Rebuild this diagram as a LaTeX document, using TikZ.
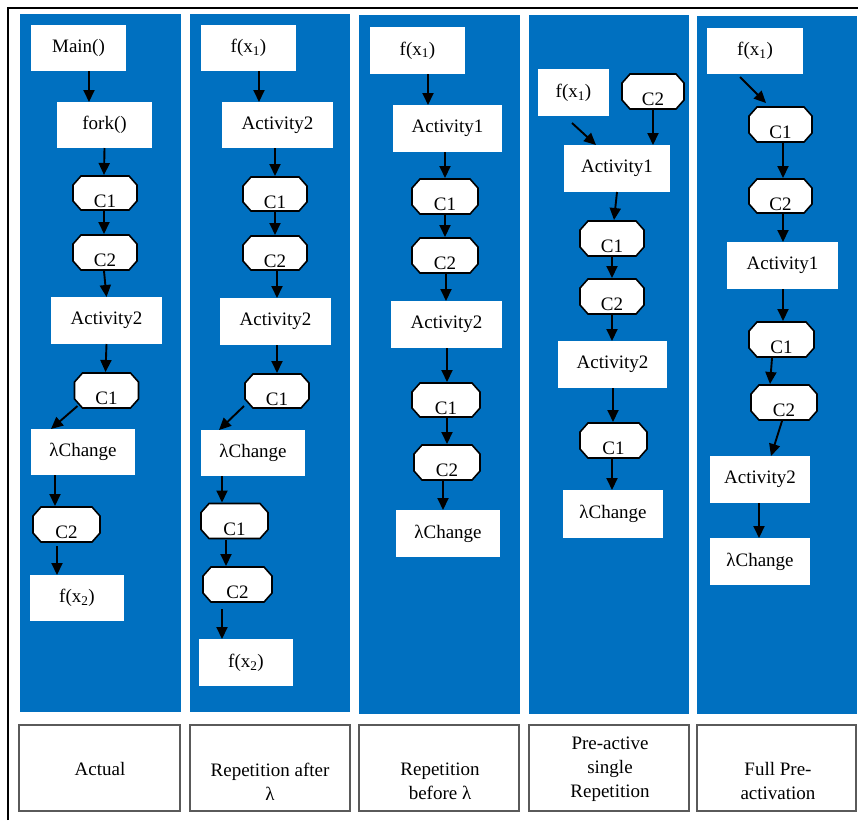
\documentclass[tikz,border=0pt]{standalone}
\usepackage{fontspec}
\setmainfont{Liberation Serif}
\usetikzlibrary{arrows.meta,calc}
\definecolor{panelblue}{RGB}{0,112,192}
\definecolor{boxgray}{RGB}{90,90,90}

% arrow from the bottom of one node to the top of the next, with x/y nudges
\newcommand\flowarrow[6]{\draw[arr] ([xshift=#2pt,yshift=#3pt]#1.south) -- ([xshift=#5pt,yshift=#6pt]#4.north);}

\tikzset{
  every node/.style={font=\fontsize{19}{24}\selectfont},
  wh/.style 2 args={minimum width=#1pt, minimum height=#2pt},
  blk/.style={rectangle, fill=white, inner sep=0pt, outer sep=0pt},
  oct/.style 2 args={rectangle, fill=panelblue, inner sep=0pt, outer sep=0pt,
    minimum width=#1pt+2pt, minimum height=#2pt+2pt,
    text height=28pt, text depth=0pt,
    path picture={
      \draw[line width=1.6pt, fill=white]
        ($(path picture bounding box.north west)+(9pt,-1pt)$) --
        ($(path picture bounding box.north east)+(-9pt,-1pt)$) --
        ($(path picture bounding box.north east)+(-1pt,-10pt)$) --
        ($(path picture bounding box.south east)+(-1pt,10pt)$) --
        ($(path picture bounding box.south east)+(-9pt,1pt)$) --
        ($(path picture bounding box.south west)+(9pt,1pt)$) --
        ($(path picture bounding box.south west)+(1pt,10pt)$) --
        ($(path picture bounding box.north west)+(1pt,-10pt)$) -- cycle;
    }},
  arr/.style={line width=1.9pt, -{Triangle[length=12pt,width=11pt]}},
  lblbox/.style={rectangle, draw=boxgray, line width=1.4pt, fill=white,
    minimum height=86pt, inner sep=0pt},
  lbltxt/.style={align=center, inner sep=0pt},
}

\begin{document}
\begin{tikzpicture}[x=1pt,y=-1pt]
\useasboundingbox (0,0) rectangle (858,820);

% outer frame (top and left edges)
\draw[line width=2.8pt] (8,820) -- (8,8) -- (858,8);

% blue panels
\fill[panelblue] (20,14) rectangle (181,712);
\fill[panelblue] (190,14) rectangle (350,712);
\fill[panelblue] (359,15) rectangle (520,714);
\fill[panelblue] (529,15) rectangle (689,714);
\fill[panelblue] (697,16) rectangle (857,714);

% ---- Actual ----
\node[blk, wh={95}{46}] (a_main) at (78.5,48) {Main()};
\node[blk, wh={95}{46}] (a_fork) at (104.5,125) {fork()};
\node[oct={64}{34}] (a_c1) at (105,193) {C1};
\node[oct={64}{35}] (a_c2) at (105,252.5) {C2};
\node[blk, wh={111}{47}] (a_act2) at (106.5,320.5) {Activity2};
\node[oct={64}{35}] (a_c1b) at (106.5,390.5) {C1};
\node[blk, wh={104}{46}] (a_lam) at (83,452) {λChange};
\node[oct={67}{35}] (a_c2b) at (66.5,524.5) {C2};
\node[blk, wh={94}{46}] (a_fx2) at (77,598) {f(x\textsubscript{2})};

\flowarrow{a_main}{10.5}{0}{a_fork}{-15.5}{0}
\flowarrow{a_fork}{0}{0}{a_c1}{-1}{0}
\flowarrow{a_c1}{-1}{0}{a_c2}{-1}{0}
\flowarrow{a_c2}{-1}{0}{a_act2}{0}{0}
\flowarrow{a_act2}{0}{0}{a_c1b}{-1}{0}
\flowarrow{a_c1b}{-29}{3}{a_lam}{-32}{0}
\flowarrow{a_lam}{-28}{0}{a_c2b}{-11.5}{0}
\flowarrow{a_c2b}{-9.5}{-3}{a_fx2}{-20}{0}

% ---- Repetition after lambda ----
\node[blk, wh={95}{46}] (b_f1) at (248.5,48) {f(x\textsubscript{1})};
\node[blk, wh={111}{46}] (b_a2) at (277.5,125) {Activity2};
\node[oct={64}{34}] (b_c1) at (275,194) {C1};
\node[oct={64}{34}] (b_c2) at (275,253) {C2};
\node[blk, wh={111}{47}] (b_a2b) at (275.5,321.5) {Activity2};
\node[oct={64}{34}] (b_c1b) at (277,391) {C1};
\node[blk, wh={104}{46}] (b_lam) at (253,453) {λChange};
\node[oct={67}{35}] (b_c1c) at (234.5,521) {C1};
\node[oct={69}{35}] (b_c2c) at (237.5,584.5) {C2};
\node[blk, wh={94}{47}] (b_fx2) at (246,662.5) {f(x\textsubscript{2})};

\flowarrow{b_f1}{10.5}{0}{b_a2}{-18.5}{0}
\flowarrow{b_a2}{-2.5}{0}{b_c1}{0}{0}
\flowarrow{b_c1}{0}{0}{b_c2}{0}{0}
\flowarrow{b_c2}{2}{0}{b_a2b}{1.5}{0}
\flowarrow{b_a2b}{1.5}{0}{b_c1b}{0}{0}
\flowarrow{b_c1b}{-33}{3}{b_lam}{-34}{0}
\flowarrow{b_lam}{-31}{0}{b_c1c}{-12.5}{0}
\flowarrow{b_c1c}{-8.5}{0}{b_c2c}{-11.5}{0}
\flowarrow{b_c2c}{-15.5}{-6}{b_fx2}{-24}{0}

% ---- Repetition before lambda ----
\node[blk, wh={95}{47}] (c_f1) at (417.5,50.5) {f(x\textsubscript{1})};
\node[blk, wh={109}{47}] (c_a1) at (447.5,128.5) {Activity1};
\node[oct={66}{35}] (c_c1) at (445,196.5) {C1};
\node[oct={66}{35}] (c_c2) at (445,255.5) {C2};
\node[blk, wh={111}{47}] (c_a2) at (446.5,324.5) {Activity2};
\node[oct={68}{34}] (c_c1b) at (446,400) {C1};
\node[oct={66}{35}] (c_c2b) at (447,462.5) {C2};
\node[blk, wh={104}{47}] (c_lam) at (448,533.5) {λChange};

\flowarrow{c_f1}{10.5}{0}{c_a1}{-19.5}{0}
\flowarrow{c_a1}{-2.5}{0}{c_c1}{0}{0}
\flowarrow{c_c1}{0}{0}{c_c2}{0}{0}
\flowarrow{c_c2}{1}{0}{c_a2}{-0.5}{0}
\flowarrow{c_a2}{0.5}{0}{c_c1b}{1}{0}
\flowarrow{c_c1b}{1}{0}{c_c2b}{0}{0}
\flowarrow{c_c2b}{-4}{0}{c_lam}{-5}{0}

% ---- Pre-active single repetition ----
\node[blk, wh={71}{47}] (d_f1) at (573.5,92.5) {f(x\textsubscript{1})};
\node[oct={62}{35}] (d_c2) at (653,91.5) {C2};
\node[blk, wh={106}{47}] (d_a1) at (617,168.5) {Activity1};
\node[oct={64}{35}] (d_c1) at (612,238.5) {C1};
\node[oct={64}{35}] (d_c2b) at (612,296.5) {C2};
\node[blk, wh={109}{47}] (d_a2) at (612.5,364.5) {Activity2};
\node[oct={67}{35}] (d_c1b) at (613.5,440.5) {C1};
\node[blk, wh={100}{48}] (d_lam) at (613,514) {λChange};

\flowarrow{d_f1}{-1.5}{-7}{d_a1}{-21}{0}
\flowarrow{d_c2}{0}{0}{d_a1}{36}{0}
\flowarrow{d_a1}{0}{0}{d_c1}{2}{0}
\flowarrow{d_c1}{0}{0}{d_c2b}{0}{0}
\flowarrow{d_c2b}{0}{0}{d_a2}{-0.5}{0}
\flowarrow{d_a2}{0.5}{0}{d_c1b}{-0.5}{0}
\flowarrow{d_c1b}{-1.5}{0}{d_lam}{-1}{0}

% ---- Full pre-activation ----
\node[blk, wh={96}{46}] (e_f1) at (755,51) {f(x\textsubscript{1})};
\node[oct={63}{35}] (e_c1) at (780.5,124.5) {C1};
\node[oct={63}{34}] (e_c2) at (780.5,196) {C2};
\node[blk, wh={111}{47}] (e_a1) at (782.5,265.5) {Activity1};
\node[oct={65}{35}] (e_c1b) at (781.5,339.5) {C1};
\node[oct={66}{35}] (e_c2b) at (784,402.5) {C2};
\node[blk, wh={100}{47}] (e_a2) at (760,479.5) {Activity2};
\node[blk, wh={100}{47}] (e_lam) at (760,561.5) {λChange};

\flowarrow{e_f1}{-15}{-3}{e_c1}{-14.5}{3}
\flowarrow{e_c1}{2.5}{0}{e_c2}{2.5}{0}
\flowarrow{e_c2}{2.5}{0}{e_a1}{0.5}{0}
\flowarrow{e_a1}{0.5}{0}{e_c1b}{1.5}{0}
\flowarrow{e_c1b}{-9.5}{0}{e_c2b}{-14}{0}
\flowarrow{e_c2b}{-2}{0}{e_a2}{11}{0}
\flowarrow{e_a2}{-1}{0}{e_lam}{-1}{0}

% ---- caption boxes ----
\node[lblbox, minimum width=161pt] (lb1) at (99.5,768) {};
\node[lblbox, minimum width=160pt] (lb2) at (270,768) {};
\node[lblbox, minimum width=160pt] (lb3) at (439,768) {};
\node[lblbox, minimum width=160pt] (lb4) at (609,768) {};
\node[lblbox, minimum width=159pt] (lb5) at (776.5,768) {};

\node[lbltxt] (lt1) at (100,769) {Actual};
\node[lbltxt] (lt2) at (270,782) {Repetition after\\λ};
\node[lbltxt] (lt3) at (440,781) {Repetition\\before λ};
\node[lbltxt] (lt4) at (610,769) {Pre-active\\single\\Repetition};
\node[lbltxt] (lt5) at (778,781) {Full Pre-\\activation};
\end{tikzpicture}
\end{document}
